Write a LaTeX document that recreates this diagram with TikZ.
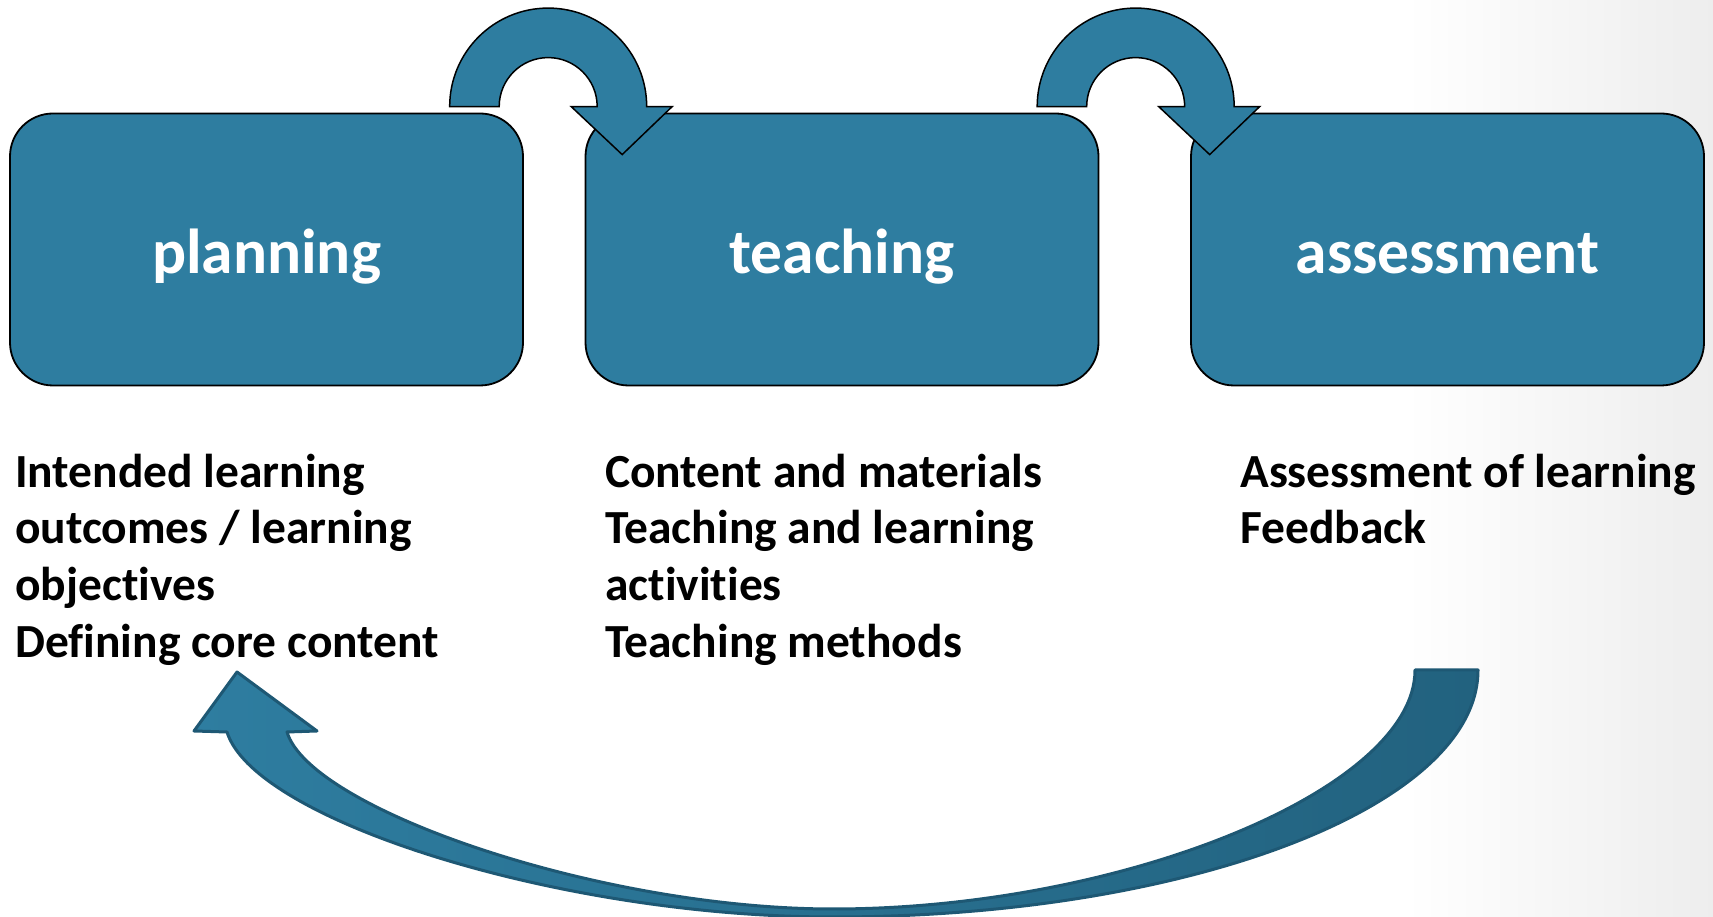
\documentclass[tikz,border=0pt]{standalone}
\usepackage{fontspec}
\setmainfont{Carlito}[Ligatures=NoCommon]
\usepackage{tikz}
\usetikzlibrary{calc}
\definecolor{color1}{RGB}{46,125,160}
\definecolor{color2}{RGB}{34,98,127}
\definecolor{color3}{RGB}{30,88,116}
\pgfdeclarehorizontalshading{slide}{100bp}{color(0bp)=(white); color(66bp)=(white); color(75bp)=(black!7); color(100bp)=(black!7)}

\begin{document}
\begin{tikzpicture}[x=1pt,y=1pt,
  box/.style={draw, line width=1.8pt, fill=color1, rounded corners=43pt,
    minimum width=513pt, minimum height=272pt, text=white,
    font=\fontsize{63.5}{76}\selectfont\bfseries, text height=49pt, text depth=0pt},
  note/.style={anchor=north west, align=left, inner sep=0pt,
    font=\fontsize{47.5}{56.7}\selectfont\bfseries}]
\def\turnarrow#1{\draw[line width=1.5pt, fill=color1, shift={(#1)}]
  (-98.5,0) arc[start angle=180, end angle=0, radius=98.5] -- (124,0) -- (74,-48)
  -- (23,0) -- (49,0) arc[start angle=0, end angle=180, radius=49] -- cycle;}

\useasboundingbox (0,0) rectangle (1713,917);
\shade[shading=slide] (0,0) rectangle (1713,917);

\node[box] (plan) at (266.5,667.5) {planning};
\node[box] (teach) at (842,667.5) {teaching};
\node[box] (assess) at (1447.5,667.5) {assessment};

\coordinate (turnA) at ($(plan.north east)!0.4!(teach.north west)+(0,6)$);
\coordinate (turnB) at ($(teach.north east)!0.4!(assess.north west)+(0,6)$);
\turnarrow{turnA}
\turnarrow{turnB}

\node[note] (plannote) at (15,463.5) {Intended learning\\outcomes / learning\\objectives\\Defining core content};
\node[note] (teachnote) at (605,463.5) {Content and materials\\Teaching and learning\\activities\\Teaching methods};
\node[note] (assessnote) at (1240,463.5) {Assessment of learning\\Feedback};

% feedback back to planning
\draw[draw=color3, line width=3pt, line join=round, left color=color1, right color=color2]
  (1415,247) -- (1478,247) .. controls (1478,111) and (1189,0) .. (833,0)
  .. controls (560,0) and (254,97) .. (227,185) -- (194,186) -- (237,245)
  -- (317,186) -- (287,185) .. controls (310,108) and (600,8) .. (833,8)
  .. controls (1120,8) and (1415,127) .. (1415,247) -- cycle;
\end{tikzpicture}
\end{document}
